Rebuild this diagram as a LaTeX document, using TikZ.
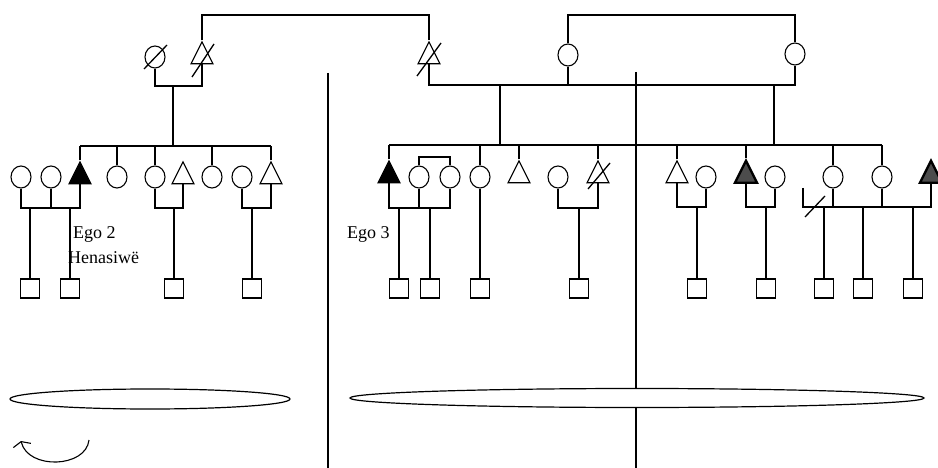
\documentclass[tikz,border=0pt]{standalone}
\usepackage{fontspec}
\setmainfont{Liberation Serif}
\usetikzlibrary{shapes.geometric,arrows.meta}
\begin{document}
\begin{tikzpicture}[x=1pt,y=-1pt,
 ln/.style={line width=1.1pt},
 sib/.style={line width=1.9pt},
 bound/.style={line width=2.6pt},
 fem/.style={draw,ellipse,line width=1.1pt,minimum width=20pt,minimum height=22pt,inner sep=0pt},
 mal/.style={draw,isosceles triangle,isosceles triangle stretches,shape border rotate=90,line width=1.1pt,minimum width=22pt,minimum height=22pt,inner sep=0pt},
 egot/.style={mal,fill=black},
 part/.style={mal,fill=black!70,line width=2.4pt},
 kid/.style={draw,rectangle,line width=1.1pt,minimum width=19pt,minimum height=19pt,inner sep=0pt},
 slash/.style={line width=1.3pt},
 lab/.style={font=\fontsize{18}{20}\selectfont,anchor=base west,inner sep=0pt},
 grp/.style={draw,ellipse,line width=1.2pt,fill=white,inner sep=0pt}
]
\useasboundingbox (0,0) rectangle (938,468);

% boundary lines
\coordinate (v1t) at (328,73); \coordinate (v1b) at (328,468);
\coordinate (v2t) at (636,72); \coordinate (v2b) at (636,468);
\draw[bound] (v1t) -- (v1b);
\draw[bound] (v2t) -- (v2b);

% top generation
\node[fem] (gm) at (155,57) {};
\node[mal] (gf) at (202,57) {};
\node[mal] (f2) at (429,57) {};
\node[fem] (w1) at (568,55) {};
\node[fem] (w2) at (795,54) {};
\coordinate (t1) at (202,15); \coordinate (t2) at (429,15);
\coordinate (t3) at (568,15); \coordinate (t4) at (795,15);
\draw[ln] (gf.apex) -- (t1) -- (t2) -- (f2.apex);
\draw[ln] (w1.north) -- (t3) -- (t4) -- (w2.north);
% slashes
\coordinate (sa1) at (144,69); \coordinate (sa2) at (167,45);
\coordinate (sb1) at (192,77); \coordinate (sb2) at (214,44);
\coordinate (sc1) at (417,76); \coordinate (sc2) at (441,43);
\draw[slash] (sa1) -- (sa2);
\draw[slash] (sb1) -- (sb2);
\draw[slash] (sc1) -- (sc2);

% marriage bars
\coordinate (ya) at (0,86);
\coordinate (m1) at (173,86);
\draw[ln] (gm.south) -- (gm.south |- ya) -- (gf.lower side |- ya) -- (gf.lower side);
\coordinate (yb) at (0,85);
\draw[ln] (f2.lower side) -- (f2.lower side |- yb) -- (w2.south |- yb) -- (w2.south);
\draw[ln] (w1.south) -- (w1.south |- yb);
\coordinate (d1) at (500,85); \coordinate (d2) at (774,85);

% left sibling set
\coordinate (ys1) at (0,146);
\node[fem] (a1) at (21,177) {};
\node[fem] (a2) at (51,177) {};
\node[egot] (a3) at (80,177) {};
\node[fem] (a4) at (117,177) {};
\node[fem] (a5) at (155,177) {};
\node[mal] (a6) at (183,177) {};
\node[fem] (a7) at (212,177) {};
\node[fem] (a8) at (242,177) {};
\node[mal] (a9) at (271,177) {};
\draw[ln] (m1) -- (m1 |- ys1);
\draw[sib] (a3.apex |- ys1) -- (a9.apex |- ys1);
\draw[ln] (a3.apex) -- (a3.apex |- ys1);
\draw[ln] (a4.north) -- (a4.north |- ys1);
\draw[ln] (a5.north) -- (a5.north |- ys1);
\draw[ln] (a7.north) -- (a7.north |- ys1);
\draw[ln] (a9.apex) -- (a9.apex |- ys1);

% right sibling set
\coordinate (ys2) at (0,145);
\node[egot] (r1) at (389,176) {};
\node[fem] (r2) at (419,177) {};
\node[fem] (r3) at (450,177) {};
\node[fem] (r4) at (480,177) {};
\node[mal] (r5) at (519,176) {};
\node[fem] (r6) at (558,177) {};
\node[mal] (r7) at (598,176) {};
\node[mal] (r8) at (677,176) {};
\node[fem] (r9) at (706,177) {};
\node[part] (r10) at (746,176) {};
\node[fem] (r11) at (775,177) {};
\node[fem] (r12) at (833,177) {};
\node[fem] (r13) at (882,177) {};
\node[part] (r14) at (931,176) {};
\draw[ln] (d1) -- (d1 |- ys2);
\draw[ln] (d2) -- (d2 |- ys2);
\draw[sib] (r1.apex |- ys2) -- (r13.north |- ys2);
\draw[ln] (r1.apex) -- (r1.apex |- ys2);
\draw[ln] (r4.north) -- (r4.north |- ys2);
\draw[ln] (r5.apex) -- (r5.apex |- ys2);
\draw[ln] (r7.apex) -- (r7.apex |- ys2);
\draw[ln] (r8.apex) -- (r8.apex |- ys2);
\draw[ln] (r10.apex) -- (r10.apex |- ys2);
\draw[ln] (r12.north) -- (r12.north |- ys2);
\draw[ln] (r13.north) -- (r13.north |- ys2);
\coordinate (tw) at (0,157);
\draw[ln] (r2.north) -- (r2.north |- tw) -- (r3.north |- tw) -- (r3.north);
\coordinate (sd1) at (588,189); \coordinate (sd2) at (610,163);
\draw[slash] (sd1) -- (sd2);

% children
\node[kid] (k1) at (30,288.5) {};
\node[kid] (k2) at (70,288.5) {};
\node[kid] (k3) at (174,288.5) {};
\node[kid] (k4) at (252,288.5) {};
\node[kid] (q1) at (399,288.5) {};
\node[kid] (q2) at (430,288.5) {};
\node[kid] (q3) at (480,288.5) {};
\node[kid] (q4) at (579,288.5) {};
\node[kid] (q5) at (697,288.5) {};
\node[kid] (q6) at (766,288.5) {};
\node[kid] (q7) at (824,288.5) {};
\node[kid] (q8) at (863,288.5) {};
\node[kid] (q9) at (913,288.5) {};

\coordinate (yc) at (0,208);
\draw[ln] (a1.south) -- (a1.south |- yc) -- (a3.lower side |- yc) -- (a3.lower side);
\draw[ln] (a2.south) -- (a2.south |- yc);
\draw[ln] (k1.north |- yc) -- (k1.north);
\draw[ln] (k2.north |- yc) -- (k2.north);
\draw[ln] (a5.south) -- (a5.south |- yc) -- (a6.lower side |- yc) -- (a6.lower side);
\draw[ln] (k3.north |- yc) -- (k3.north);
\draw[ln] (a8.south) -- (a8.south |- yc) -- (a9.lower side |- yc) -- (a9.lower side);
\draw[ln] (k4.north |- yc) -- (k4.north);

\draw[ln] (r1.lower side) -- (r1.lower side |- yc) -- (r3.south |- yc) -- (r3.south);
\draw[ln] (r2.south) -- (r2.south |- yc);
\draw[ln] (q1.north |- yc) -- (q1.north);
\draw[ln] (q2.north |- yc) -- (q2.north);
\draw[ln] (r4.south) -- (q3.north);
\draw[ln] (r6.south) -- (r6.south |- yc) -- (r7.lower side |- yc) -- (r7.lower side);
\draw[ln] (q4.north |- yc) -- (q4.north);

\coordinate (yd) at (0,207);
\draw[ln] (r8.lower side) -- (r8.lower side |- yd) -- (r9.south |- yd) -- (r9.south);
\draw[ln] (q5.north |- yd) -- (q5.north);
\draw[ln] (r10.lower side) -- (r10.lower side |- yd) -- (r11.south |- yd) -- (r11.south);
\draw[ln] (q6.north |- yd) -- (q6.north);
\coordinate (hx) at (803,188);
\draw[ln] (hx) -- (hx |- yd) -- (r14.lower side |- yd) -- (r14.lower side);
\draw[ln] (r12.south) -- (r12.south |- yd);
\draw[ln] (r13.south) -- (r13.south |- yd);
\draw[ln] (q7.north |- yd) -- (q7.north);
\draw[ln] (q8.north |- yd) -- (q8.north);
\draw[ln] (q9.north |- yd) -- (q9.north);
\coordinate (se1) at (805,217); \coordinate (se2) at (825,196);
\draw[slash] (se1) -- (se2);

% labels
\node[lab] (ego2) at (73,239) {Ego 2};
\node[lab] (hen) at (68,263) {Henasiwë};
\node[lab] (ego3) at (347,238) {Ego 3};

% group ellipses
\node[grp,minimum width=280pt,minimum height=20pt] (e1) at (150,399) {};
\node[grp,minimum width=574pt,minimum height=19pt] (e2) at (637,398) {};

% arrow
\coordinate (ar1) at (89,440); \coordinate (ar2) at (21,441);
\draw[ln,-{Straight Barb[length=4pt,width=18pt]}] (ar1) .. controls (86,468) and (28,470) .. (ar2);
\end{tikzpicture}
\end{document}
